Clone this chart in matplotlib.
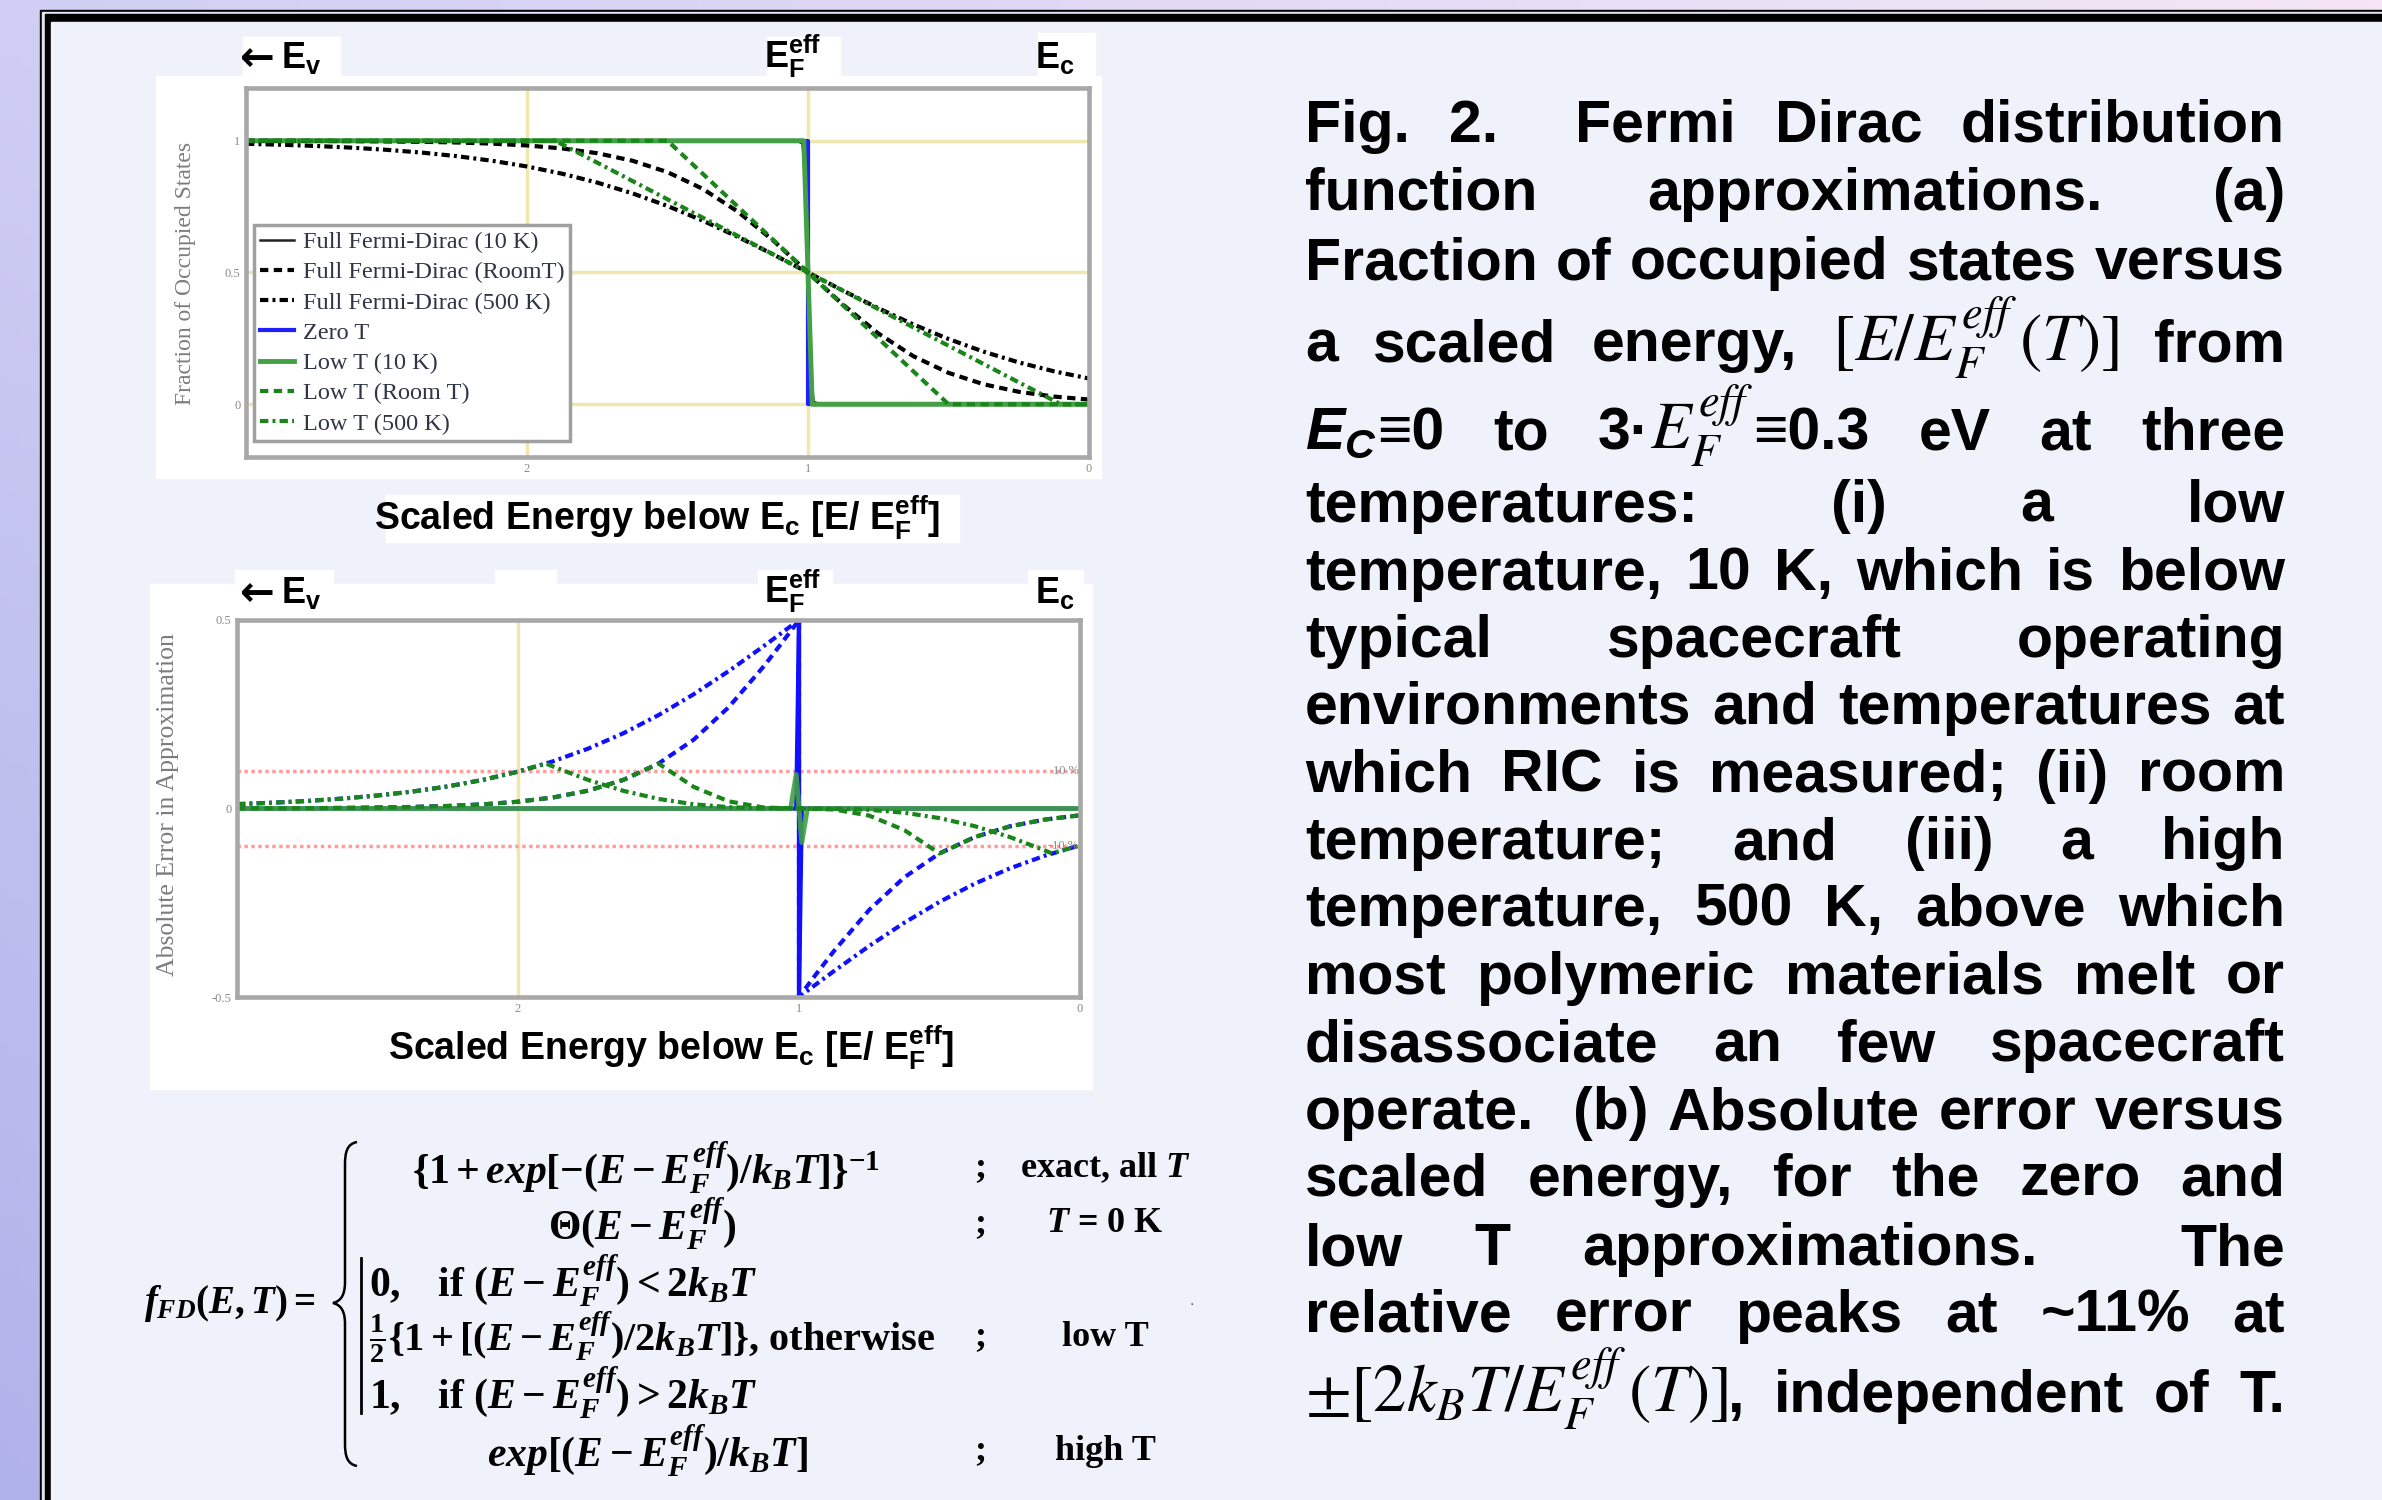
import matplotlib
matplotlib.use('Agg')
import numpy as np
import matplotlib.pyplot as plt
from matplotlib import font_manager
from matplotlib.patches import Rectangle, PathPatch
from matplotlib.path import Path

# ---------------- data ----------------
# scaled energy below E_c  [E / E_F^eff], sampled along the curves
x_grid = [3.0, 2.875, 2.75, 2.625, 2.5, 2.375, 2.25, 2.125, 2.0, 1.875, 1.75, 1.625,
          1.5, 1.375, 1.25, 1.125, 1.0, 0.875, 0.75, 0.625, 0.5, 0.375, 0.25, 0.125, 0.0]

# (a) fraction of occupied states
fd_room = [0.9997, 0.9994, 0.9991, 0.9985, 0.9975, 0.9959, 0.9933, 0.9890, 0.9820,
           0.9707, 0.9526, 0.9241, 0.8808, 0.8176, 0.7311, 0.6225, 0.5, 0.3775,
           0.2689, 0.1824, 0.1192, 0.0759, 0.0474, 0.0293, 0.0180]
fd_500 = [0.9884, 0.9847, 0.9800, 0.9737, 0.9655, 0.9550, 0.9414, 0.9241, 0.9022,
          0.8748, 0.8411, 0.8004, 0.7523, 0.6971, 0.6354, 0.5690, 0.5, 0.4310,
          0.3646, 0.3029, 0.2477, 0.1996, 0.1589, 0.1252, 0.0978]
fd_10_x = [3.0, 1.04, 1.02, 1.01, 1.0, 0.99, 0.98, 0.96, 0.0]
fd_10_y = [1.0, 1.0, 0.99, 0.88, 0.5, 0.12, 0.01, 0.0, 0.0]
zero_x = [3.0, 1.0, 1.0, 0.0]
zero_y = [1.0, 1.0, 0.0, 0.0]
low10_x = [3.0, 1.015, 0.985, 0.0]
low10_y = [1.0, 1.0, 0.0, 0.0]
lowroom_x = [3.0, 1.5, 0.5, 0.0]
lowroom_y = [1.0, 1.0, 0.0, 0.0]
low500_x = [3.0, 1.9, 0.1, 0.0]
low500_y = [1.0, 1.0, 0.0, 0.0]

legend_labels = ['Full Fermi-Dirac (10 K)', 'Full Fermi-Dirac (RoomT)',
                 'Full Fermi-Dirac (500 K)', 'Zero T', 'Low T (10 K)',
                 'Low T (Room T)', 'Low T (500 K)']

# (b) absolute error of the approximations
err_jump_x = x_grid[:16] + [1.0625, 1.0, 1.0, 0.9375] + x_grid[17:]
err_zero_room = [0.0003, 0.0006, 0.0009, 0.0015, 0.0025, 0.0041, 0.0067, 0.0110,
                 0.0180, 0.0293, 0.0474, 0.0759, 0.1192, 0.1824, 0.2689, 0.3775,
                 0.4378, 0.5, -0.5, -0.4378,
                 -0.3775, -0.2689, -0.1824, -0.1192, -0.0759, -0.0474, -0.0293, -0.0180]
err_zero_500 = [0.0116, 0.0153, 0.0200, 0.0263, 0.0345, 0.0450, 0.0586, 0.0759,
                0.0978, 0.1252, 0.1589, 0.1996, 0.2477, 0.3029, 0.3646, 0.4310,
                0.4653, 0.5, -0.5, -0.4653,
                -0.4310, -0.3646, -0.3029, -0.2477, -0.1996, -0.1589, -0.1252, -0.0978]
err_zero10_x = [3.0, 1.01, 1.0, 1.0, 0.99, 0.0]
err_zero10_y = [0.0, 0.0, 0.5, -0.5, 0.0, 0.0]
err_low10_x = [3.0, 1.03, 1.01, 1.0, 0.99, 0.97, 0.0]
err_low10_y = [0.0, 0.0, 0.09, 0.0, -0.09, 0.0, 0.0]
err_lowroom = [0.0003, 0.0006, 0.0009, 0.0015, 0.0025, 0.0041, 0.0067, 0.0110, 0.0180,
               0.0293, 0.0474, 0.0759, 0.1192, 0.0574, 0.0189, 0.0025, 0.0, -0.0025,
               -0.0189, -0.0574, -0.1192, -0.0759, -0.0474, -0.0293, -0.0180]
err_low500_x = [3.0, 2.875, 2.75, 2.625, 2.5, 2.375, 2.25, 2.125, 2.0, 1.9, 1.875, 1.75,
                1.625, 1.5, 1.375, 1.25, 1.125, 1.0, 0.875, 0.75, 0.625, 0.5, 0.375,
                0.25, 0.125, 0.1, 0.0]
err_low500 = [0.0116, 0.0153, 0.0200, 0.0263, 0.0345, 0.0450, 0.0586, 0.0759, 0.0978,
              0.1192, 0.1113, 0.0756, 0.0468, 0.0255, 0.0112, 0.0035, 0.0004, 0.0,
              -0.0004, -0.0035, -0.0112, -0.0255, -0.0468, -0.0756, -0.1113, -0.1192,
              -0.0978]

# caption (justified), {..} are pieces with mixed fonts
caption = [
    "Fig. 2.  Fermi Dirac distribution",
    "function approximations. (a)",
    "Fraction of occupied states versus",
    "a scaled energy, {m1} from",
    "{ec} to {ef} eV at three",
    "temperatures: (i) a low",
    "temperature, 10 K, which is below",
    "typical spacecraft operating",
    "environments and temperatures at",
    "which RIC is measured; (ii) room",
    "temperature; and (iii) a high",
    "temperature, 500 K, above which",
    "most polymeric materials melt or",
    "disassociate an few spacecraft",
    "operate.  (b) Absolute error versus",
    "scaled energy, for the zero and",
    "low T approximations.  The",
    "relative error peaks at ~11% at",
    "{pm} independent of T.",
]
special = {
    '{m1}': [(r'$[E/E_F^{eff}\,(T)]$', 'm')],
    '{ec}': [(r'$\mathregular{E_C}$', 'bi'), ('≡0', 'b')],
    '{ef}': [('3·', 'b'), (r'$E_F^{eff}$', 'm'), ('≡0.3', 'b')],
    '{pm}': [(r'$\pm[2k_BT/E_F^{eff}\,(T)]$', 'm'), (',', 'b')],
}

# ---------------- fonts ----------------
have = {f.name for f in font_manager.fontManager.ttflist}
SANS = ['Liberation Sans', 'DejaVu Sans']
SERIF = ['Liberation Serif', 'DejaVu Serif']
if 'Liberation Sans Narrow' in have:
    NARROW = ['Liberation Sans Narrow', 'Liberation Sans', 'DejaVu Sans']
else:
    NARROW = SANS
plt.rcParams['mathtext.fontset'] = 'custom'
plt.rcParams['mathtext.rm'] = 'Liberation Serif:bold'
plt.rcParams['mathtext.it'] = 'Liberation Serif:italic:bold'
plt.rcParams['mathtext.bf'] = 'Liberation Serif:bold'

W, H = 2382, 1500
fig = plt.figure(figsize=(W / 100, H / 100), dpi=100)

# ---------------- background / poster frame ----------------
bg = fig.add_axes([0, 0, 1, 1])
gx = np.linspace(0, 1, 256)[None, :, None]
gy = np.linspace(0, 1, 128)[:, None, None]
c_tl = np.array([208, 206, 244]) / 255
c_tr = np.array([244, 230, 246]) / 255
c_bl = np.array([176, 178, 234]) / 255
c_br = np.array([226, 222, 244]) / 255
img = ((1 - gy) * ((1 - gx) * c_tl + gx * c_tr)
       + gy * ((1 - gx) * c_bl + gx * c_br))
bg.imshow(img, extent=[0, W, H, 0], aspect='auto', zorder=0)
bg.set_xlim(0, W)
bg.set_ylim(H, 0)
bg.axis('off')

bg.add_patch(Rectangle((39.5, 9.5), W, H, color='black', zorder=1))
bg.add_patch(Rectangle((42, 12), W, H, color='#e4e4f4', zorder=1))
bg.add_patch(Rectangle((44.5, 14), W, H, color='black', zorder=1))
bg.add_patch(Rectangle((51, 22), W, H, color='#eff2fa', zorder=1))

# white areas behind the two panels and their labels
white_boxes = [(156, 76, 1101, 478), (243, 37, 340, 77), (767, 37, 840, 77),
               (1038, 33, 1095, 77), (386, 495, 959, 542),
               (150, 584, 1092, 1089), (235, 570, 333, 585), (495, 570, 556, 585),
               (758, 570, 832, 585), (1028, 570, 1083, 585)]
for l, t, r, b in white_boxes:
    bg.add_patch(Rectangle((l, t), r - l, b - t, color='white', zorder=2))


def px_axes(l, t, r, b):
    return fig.add_axes([l / W, 1 - b / H, (r - l) / W, (b - t) / H])


KHAKI = '#efe6b0'
FRAME = '#a8a8a8'
GREEN = '#44a044'
DGREEN = '#1a861a'
DASH = (0, (2.0, 1.3))
DASHDOT = (0, (2.0, 1.0, 0.7, 1.0))


def style_axes(ax, ylim, yticks, ylabels):
    ax.set_xlim(3, 0)
    ax.set_ylim(*ylim)
    ax.set_xticks([2, 1, 0])
    ax.set_xticklabels(['2', '1', '0'])
    ax.set_yticks(yticks)
    ax.set_yticklabels(ylabels)
    ax.tick_params(length=0, labelsize=9, labelcolor='#8a8a8a', pad=4)
    for lab in ax.get_xticklabels() + ax.get_yticklabels():
        lab.set_fontfamily(SERIF)
    for s in ax.spines.values():
        s.set_color(FRAME)
        s.set_linewidth(3.3)
        s.set_zorder(10)


# ---------------- panel (a) ----------------
ax = px_axes(246, 88, 1089, 457)
style_axes(ax, (-0.2, 1.2), [0, 0.5, 1], ['0', '0.5', '1'])
for xv in [2, 1]:
    ax.axvline(xv, color=KHAKI, lw=2.5, zorder=0)
for yv in [0, 0.5, 1]:
    ax.axhline(yv, color=KHAKI, lw=2.5, zorder=0)

h_fd10, = ax.plot(fd_10_x, fd_10_y, color='#222222', lw=1.8, zorder=3)
h_fdr, = ax.plot(x_grid, fd_room, color='black', lw=3, ls=DASH, zorder=4)
h_fd5, = ax.plot(x_grid, fd_500, color='black', lw=3, ls=DASHDOT, zorder=4)
h_zero, = ax.plot(zero_x, zero_y, color='#2020ff', lw=3, zorder=2)
h_l10, = ax.plot(low10_x, low10_y, color=GREEN, lw=3.5, zorder=3)
h_lr, = ax.plot(lowroom_x, lowroom_y, color=DGREEN, lw=3, ls=DASH, zorder=5)
h_l5, = ax.plot(low500_x, low500_y, color=DGREEN, lw=3, ls=DASHDOT, zorder=5)

leg = ax.legend([h_fd10, h_fdr, h_fd5, h_zero, h_l10, h_lr, h_l5], legend_labels,
                loc='upper left', bbox_to_anchor=(8 / 843, 232 / 369),
                prop=dict(family=SERIF, size=17.5), labelcolor='#2f3545',
                fancybox=False, edgecolor='#a0a0a0', framealpha=1,
                borderpad=0.25, labelspacing=0.34, handlelength=1.4,
                handletextpad=0.35, borderaxespad=0)
leg.get_frame().set_linewidth(2.5)
leg.set_zorder(8)

# ---------------- panel (b) ----------------
bx = px_axes(237, 620, 1080, 997)
style_axes(bx, (-0.5, 0.5), [-0.5, 0, 0.5], ['-0.5', '0', '0.5'])
for xv in [2, 1]:
    bx.axvline(xv, color=KHAKI, lw=2.5, zorder=0)
bx.axhline(0, color=KHAKI, lw=2.5, zorder=0)
for yv in [0.1, -0.1]:
    bx.axhline(yv, color='#ff9d9d', lw=2.5, ls=(0, (1, 1)), zorder=1)
bx.text(0.005, 0.1, '10 %', ha='right', va='center', fontsize=9,
        color='#8a8a8a', fontfamily=SERIF, zorder=6)
bx.text(0.005, -0.1, '-10 %', ha='right', va='center', fontsize=9,
        color='#8a8a8a', fontfamily=SERIF, zorder=6)

bx.plot(err_jump_x, err_zero_room, color='#1010ff', lw=3, ls=DASH, zorder=3)
bx.plot(err_jump_x, err_zero_500, color='#1010ff', lw=3, ls=DASHDOT, zorder=3)
bx.plot(err_zero10_x, err_zero10_y, color='#1010ff', lw=3, zorder=3)
bx.plot(err_low10_x, err_low10_y, color=GREEN, lw=3.5, alpha=0.9, zorder=4)
bx.plot(x_grid, err_lowroom, color=DGREEN, lw=3, ls=DASH, zorder=5)
bx.plot(err_low500_x, err_low500, color=DGREEN, lw=3, ls=DASHDOT, zorder=5)

# ---------------- panel labels ----------------
LBL = dict(fontfamily=NARROW, fontweight='bold', color='black', zorder=5)
for dy in [58, 593]:
    bg.text(240, dy + 1, '←', fontsize=30, ha='left', va='center',
            fontfamily='DejaVu Sans', fontweight='bold', color='black', zorder=5)
    bg.text(281, dy, r'$\mathregular{E_v}$', fontsize=26, ha='left',
            va='center', **LBL)
    bg.text(764, dy - 2, r'$\mathregular{E_F^{eff}}$', fontsize=26, ha='left',
            va='center', **LBL)
    bg.text(1035, dy, r'$\mathregular{E_c}$', fontsize=26, ha='left', va='center', **LBL)
bg.text(1042, 128, '(a)', fontsize=26, ha='center', va='center', **LBL)
bg.text(1034, 655, '(b)', fontsize=26, ha='center', va='center', **LBL)
xlab = r'Scaled Energy below $\mathregular{E_c}$ [E/ $\mathregular{E_F^{eff}}$]'
bg.text(657, 518, xlab, fontsize=27, ha='center', va='center', **LBL)
bg.text(671, 1048, xlab, fontsize=27, ha='center', va='center', **LBL)

YL = dict(fontfamily=SERIF, color='#7c7c7c', rotation=90, ha='center',
          va='center', zorder=5)
bg.text(186, 273, 'Fraction of Occupied States', fontsize=17, **YL)
bg.text(168, 805, 'Absolute Error in Approximation', fontsize=18.5, **YL)

# ---------------- equation block ----------------
EQ = dict(fontfamily=SERIF, fontweight='bold', color='black', va='center', zorder=5)
MS = 30
bg.text(144, 1303, r'$f_{FD}(E,T)=$', ha='left', fontsize=28, **EQ)
bg.text(646, 1168, r'$\{1+exp[-(E-E_F^{eff})/k_BT]\}^{-1}$', ha='center',
        fontsize=MS, **EQ)
bg.text(642, 1224, r'$\Theta(E-E_F^{eff})$', ha='center', fontsize=MS, **EQ)
bg.text(369, 1281, r'$0,$   if $(E-E_F^{eff})<2k_BT$', ha='left', fontsize=MS, **EQ)
bg.text(369, 1337, r'$\frac{1}{2}\{1+[(E-E_F^{eff})/2k_BT]\}$, otherwise',
        ha='left', fontsize=29, **EQ)
bg.text(369, 1393, r'$1,$   if $(E-E_F^{eff})>2k_BT$', ha='left', fontsize=MS, **EQ)
bg.text(647, 1451, r'$exp[(E-E_F^{eff})/k_BT]$', ha='center', fontsize=MS, **EQ)
for yy in [1168, 1224, 1337, 1451]:
    bg.text(980, yy, ';', ha='center', fontsize=26, **EQ)
bg.text(1105, 1168, r'exact, all $T$', ha='center', fontsize=26, **EQ)
bg.text(1105, 1224, r'$T$ = 0 K', ha='center', fontsize=26, **EQ)
bg.text(1105, 1337, 'low T', ha='center', fontsize=26, **EQ)
bg.text(1105, 1451, 'high T', ha='center', fontsize=26, **EQ)
bg.text(1192, 1305, '.', ha='center', fontsize=10, color='#555555', zorder=5)

brace = Path([(357, 1142), (347, 1144), (345, 1152), (345, 1165),
              (345, 1282),
              (345, 1295), (341, 1301), (333, 1303),
              (341, 1305), (345, 1311), (345, 1324),
              (345, 1443),
              (345, 1456), (347, 1464), (357, 1466)],
             [Path.MOVETO, Path.CURVE4, Path.CURVE4, Path.CURVE4,
              Path.LINETO,
              Path.CURVE4, Path.CURVE4, Path.CURVE4,
              Path.CURVE4, Path.CURVE4, Path.CURVE4,
              Path.LINETO,
              Path.CURVE4, Path.CURVE4, Path.CURVE4])
bg.add_patch(PathPatch(brace, fill=False, lw=1.8, ec='black', zorder=5))
bg.plot([361, 361], [1258, 1413], color='black', lw=2, zorder=5)

# ---------------- justified caption ----------------
CAP_SIZE = 42.5
STYLES = {
    'b': dict(fontfamily=SANS, fontweight='bold', fontsize=CAP_SIZE),
    'bi': dict(fontfamily=SANS, fontweight='bold', fontstyle='italic',
               fontsize=CAP_SIZE),
    'm': dict(fontfamily=SERIF, math_fontfamily='stix', fontsize=48),
}
cap_base = [142, 210, 279, 361, 449, 522, 590, 657, 724, 792, 859, 926, 994,
            1061, 1129, 1196, 1265, 1332, 1412]
X0, X1 = 1305, 2285
renderer = fig.canvas.get_renderer()
for line, yb in zip(caption, cap_base):
    tokens, weights = [], []
    w = 1
    for wd in line.split(' '):
        if wd == '':
            w += 1
            continue
        tokens.append(special.get(wd, [(wd, 'b')]))
        weights.append(w)
        w = 1
    items, total = [], 0.0
    for tok in tokens:
        pieces = []
        for s, st in tok:
            t = bg.text(X0, yb, s, va='baseline', ha='left',
                        color='black', zorder=5, **STYLES[st])
            wpx = t.get_window_extent(renderer).width
            pieces.append((t, wpx))
            total += wpx
        items.append(pieces)
    gap = (X1 - X0 - total) / max(sum(weights[1:]), 1)
    x = X0
    for i, pieces in enumerate(items):
        if i > 0:
            x += gap * weights[i]
        for t, wpx in pieces:
            t.set_x(x)
            x += wpx

fig.savefig('out.png', dpi=100)
